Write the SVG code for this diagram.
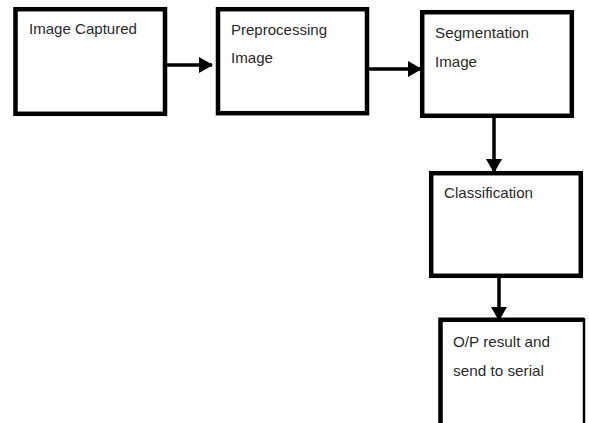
<svg xmlns="http://www.w3.org/2000/svg" width="589" height="423" viewBox="0 0 589 423">
<style>
.box{fill:#fff;stroke:#000;stroke-width:4.5}
.lbl{font-family:"Liberation Sans",Arial,sans-serif;font-size:14.5px;fill:#2a2a2a}
.conn{stroke:#000;stroke-width:3.5;fill:none}
</style>
<defs>
<marker id="ah" markerUnits="userSpaceOnUse" markerWidth="14" markerHeight="16" refX="13" refY="8" orient="auto">
<path d="M0,0 L14,8 L0,16 Z" fill="#000"/>
</marker>
</defs>
<rect width="589" height="423" fill="#fff"/>
<g id="connectors">
<line class="conn" x1="167" y1="65" x2="212" y2="65" marker-end="url(#ah)"/>
<line class="conn" x1="369" y1="69" x2="421" y2="69" marker-end="url(#ah)"/>
<line class="conn" x1="494" y1="118" x2="494" y2="172" marker-end="url(#ah)"/>
<line class="conn" x1="499" y1="278" x2="499" y2="320" marker-end="url(#ah)"/>
</g>
<g id="n1">
<rect class="box" x="15.5" y="9.2" width="149.5" height="104.6"/>
<text class="lbl" x="29" y="34" textLength="108" lengthAdjust="spacingAndGlyphs">Image Captured</text>
</g>
<g id="n2">
<rect class="box" x="218" y="9.2" width="149" height="104"/>
<text class="lbl" x="231" y="35" textLength="96" lengthAdjust="spacingAndGlyphs">Preprocessing</text>
<text class="lbl" x="231" y="63" textLength="42" lengthAdjust="spacingAndGlyphs">Image</text>
</g>
<g id="n3">
<rect class="box" x="422.2" y="12.2" width="149.6" height="103.6"/>
<text class="lbl" x="435" y="38" textLength="94" lengthAdjust="spacingAndGlyphs">Segmentation</text>
<text class="lbl" x="435" y="67" textLength="42" lengthAdjust="spacingAndGlyphs">Image</text>
</g>
<g id="n4">
<rect class="box" x="431.2" y="173.2" width="149.6" height="102.6"/>
<text class="lbl" x="444" y="198" textLength="89" lengthAdjust="spacingAndGlyphs">Classification</text>
</g>
<g id="n5">
<rect x="440" y="320" width="144" height="110" fill="#fff"/>
<path d="M440.5,430 V319.8 H584" fill="none" stroke="#000" stroke-width="4.5"/>
<path d="M584,318 V430" fill="none" stroke="#000" stroke-width="2.5"/>
<text class="lbl" x="453" y="347" textLength="97" lengthAdjust="spacingAndGlyphs">O/P result and</text>
<text class="lbl" x="453" y="376" textLength="91" lengthAdjust="spacingAndGlyphs">send to serial</text>
</g>
</svg>
